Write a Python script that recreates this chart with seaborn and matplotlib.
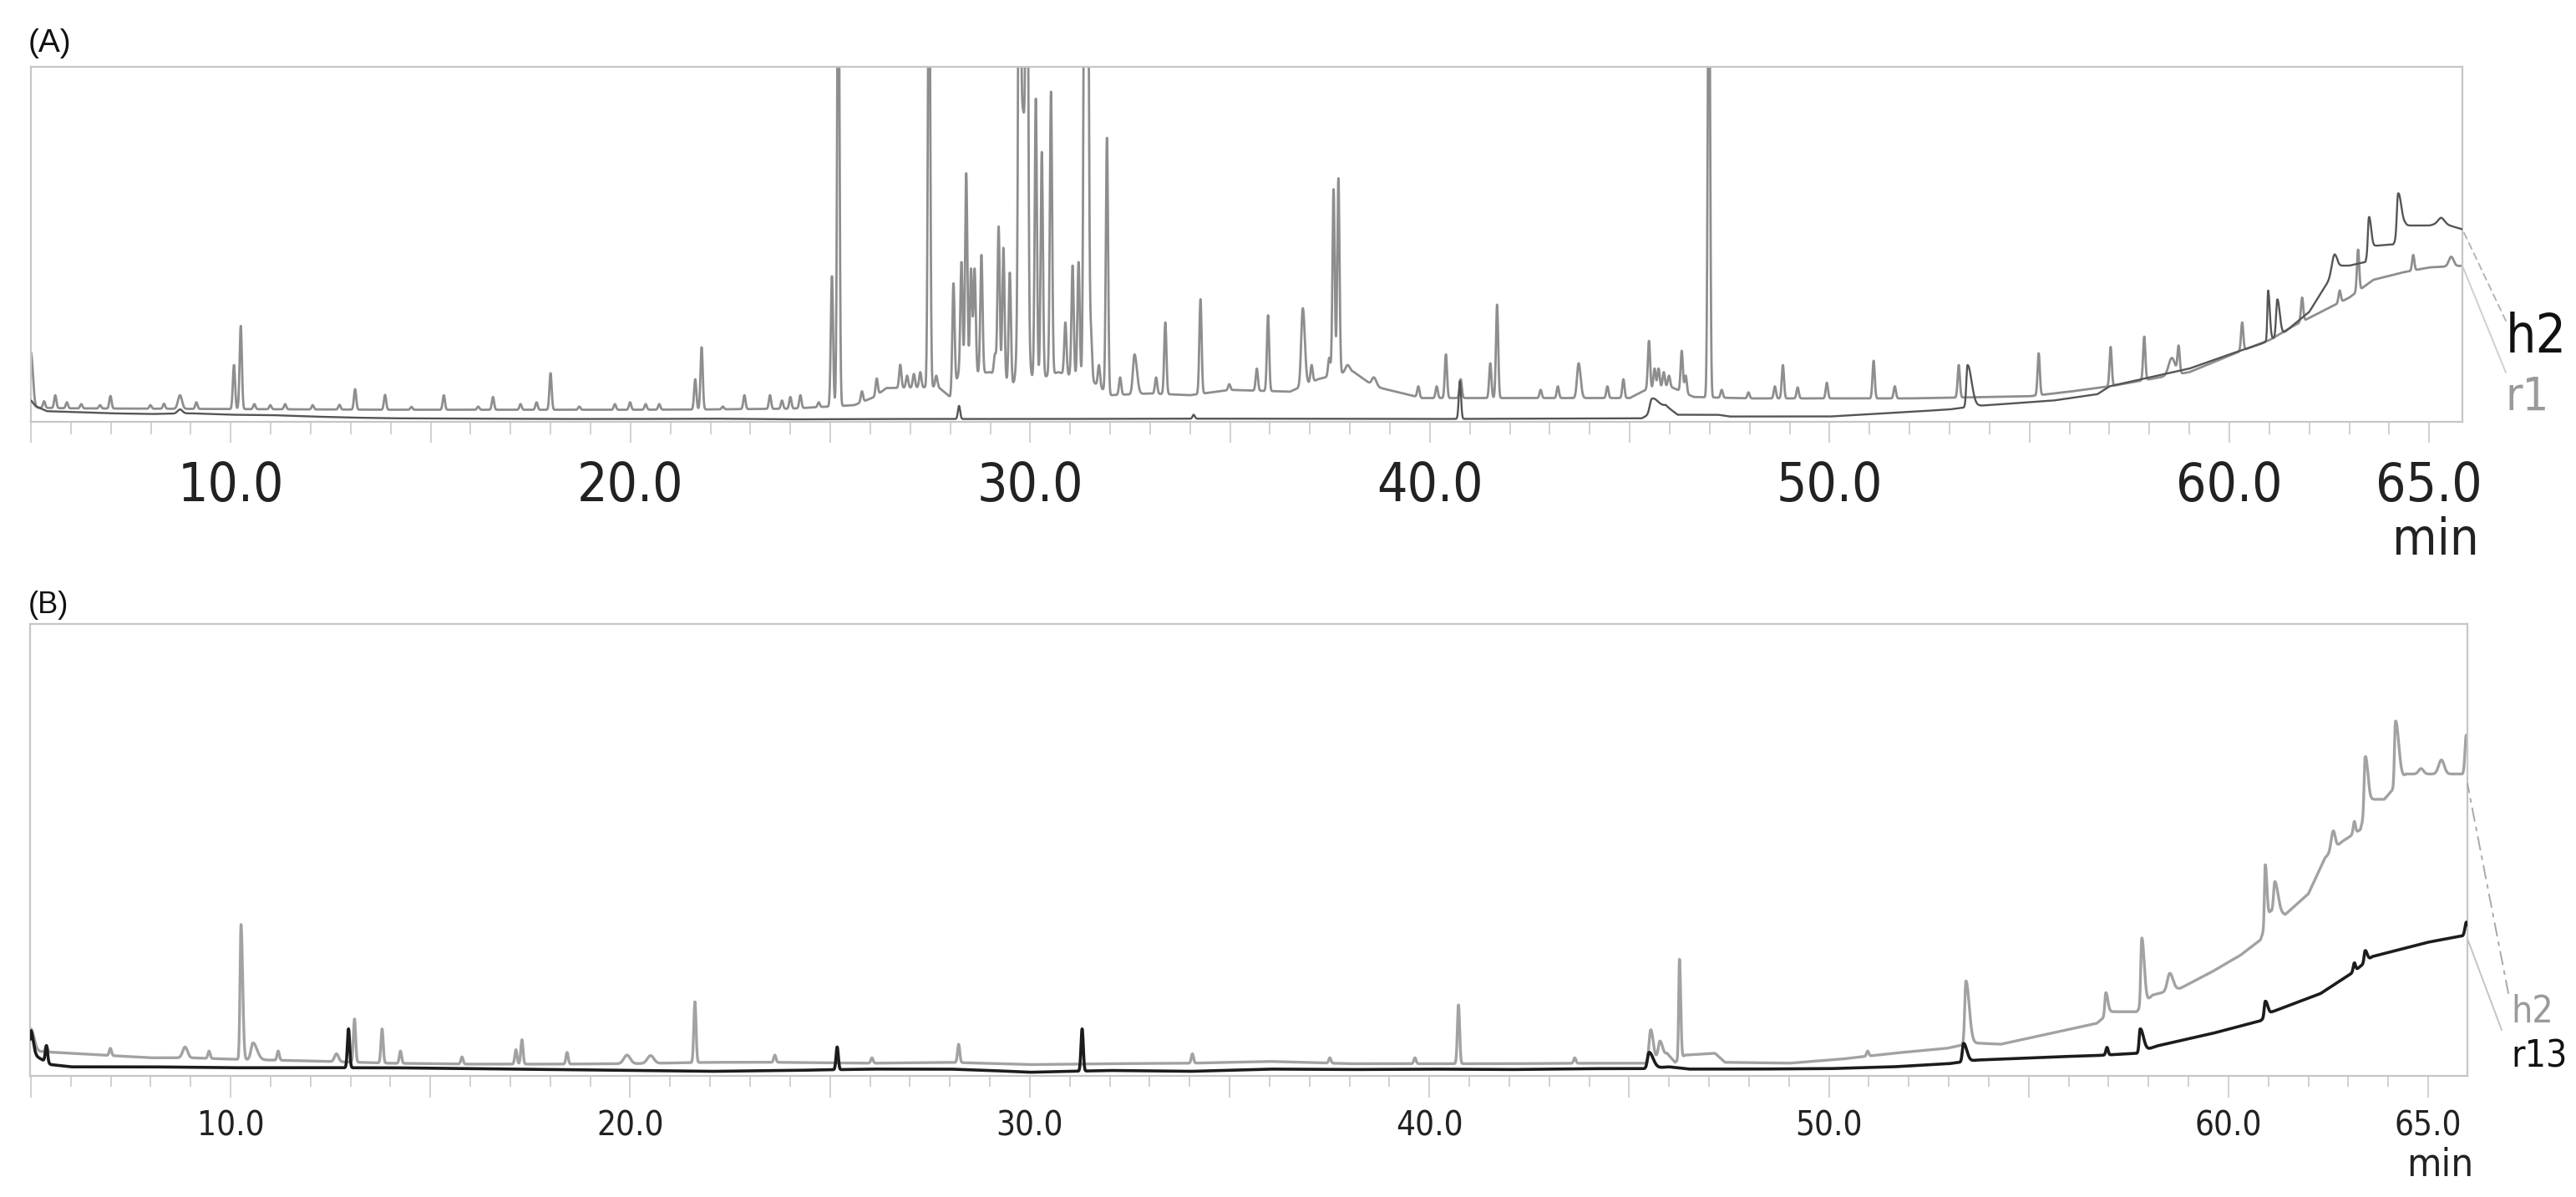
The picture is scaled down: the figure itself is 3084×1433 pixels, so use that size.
import numpy as np
import pandas as pd
import matplotlib
matplotlib.use("Agg")
import matplotlib.pyplot as plt
import seaborn as sns
from matplotlib import font_manager as fm

sns.set_theme(style="white")
plt.rcParams["font.family"] = ["Liberation Sans", "DejaVu Sans"]


def pick_narrow():
    prefs = ["LiberationSansNarrow-Regular", "DejaVuSansCondensed.ttf", "RobotoCondensed-Regular",
             "OpenSans_Condensed-Regular", "NotoSans-Condensed", "Condensed-Regular", "Narrow"]
    files = [f.fname for f in fm.fontManager.ttflist]
    for key in prefs:
        for fn in files:
            base = fn.split("/")[-1]
            if key in base and "Bold" not in base and "Oblique" not in base and "Italic" not in base:
                return fm.FontProperties(fname=fn)
    return fm.FontProperties(family="Liberation Sans")


NARROW_FP = pick_narrow()

# ---------------- data (retention time in min, signal as fraction of panel height) ----------------
TICK_POS = [5, 10, 15, 20, 25, 30, 35, 40, 45, 50, 55, 60, 65]
TICK_LAB = ["", "10.0", "", "20.0", "", "30.0", "", "40.0", "", "50.0", "", "60.0", "65.0"]

# Panel A, trace r1 : baseline knots (t, value)
A_r1_base = [(5.0, 0.040), (6.0, 0.038), (8.0, 0.037), (10.0, 0.036), (12.0, 0.035), (14.0, 0.034),
             (16.0, 0.034), (18.0, 0.034), (20.0, 0.034), (22.0, 0.035), (24.0, 0.037), (25.6, 0.047),
             (26.1, 0.07), (26.4, 0.095), (27.7, 0.098), (28.0, 0.07), (28.2, 0.13), (29.0, 0.14),
             (29.6, 0.10), (30.2, 0.12), (30.7, 0.14), (31.6, 0.11), (32.0, 0.075), (33.0, 0.08),
             (34.0, 0.075), (35.0, 0.09), (36.5, 0.085), (37.2, 0.12), (37.9, 0.14), (38.1, 0.14),
             (38.6, 0.10), (39.8, 0.067), (45.0, 0.067), (45.4, 0.09), (46.0, 0.10), (46.6, 0.07),
             (48.0, 0.066), (52.0, 0.066), (55.0, 0.072), (56.0, 0.085), (57.0, 0.10), (58.0, 0.12),
             (59.0, 0.14), (60.3, 0.20), (61.0, 0.23), (61.6, 0.27), (62.3, 0.31), (63.0, 0.35),
             (63.6, 0.40), (64.3, 0.42), (65.0, 0.435), (65.9, 0.44)]
# Panel A, trace r1 : peaks (t, apex value[, left width, right width])
A_r1_peaks = [(5.0, 0.195, 0.02, 0.05), (5.33, 0.058), (5.61, 0.075), (5.9, 0.055), (6.26, 0.05),
              (6.73, 0.047), (6.99, 0.073), (7.99, 0.047), (8.33, 0.051), (8.73, 0.075, 0.05, 0.05),
              (9.14, 0.055), (10.08, 0.16), (10.25, 0.27), (10.59, 0.05), (10.99, 0.047), (11.36, 0.05),
              (12.05, 0.047), (12.72, 0.048), (13.11, 0.092), (13.86, 0.076), (14.52, 0.042),
              (15.33, 0.075), (16.19, 0.043), (16.56, 0.07), (17.25, 0.05), (17.65, 0.055), (18.0, 0.137),
              (18.72, 0.043), (19.61, 0.05), (19.99, 0.055), (20.38, 0.05), (20.72, 0.05), (21.62, 0.12),
              (21.78, 0.21), (22.31, 0.043), (22.85, 0.075), (23.49, 0.075), (23.79, 0.06), (24.0, 0.07),
              (24.25, 0.075), (24.71, 0.055), (25.04, 0.41), (25.2, 1.5),
              (25.79, 0.086), (26.16, 0.122), (26.75, 0.161), (26.92, 0.13), (27.09, 0.135), (27.25, 0.14),
              (27.47, 1.5), (27.65, 0.13), (28.08, 0.39), (28.28, 0.45), (28.40, 0.70), (28.52, 0.43),
              (28.61, 0.43), (28.78, 0.47), (29.12, 0.19), (29.21, 0.55), (29.33, 0.49), (29.49, 0.42),
              (29.73, 1.5), (29.82, 0.87, 0.08, 0.08), (29.92, 1.5), (30.14, 0.91), (30.29, 0.76),
              (30.52, 0.93), (30.88, 0.28), (31.06, 0.44), (31.21, 0.45), (31.36, 1.5), (31.44, 1.5),
              (31.52, 0.25), (31.72, 0.16), (31.92, 0.80), (32.25, 0.125), (32.61, 0.19, 0.04, 0.06),
              (33.15, 0.125), (33.38, 0.28), (34.26, 0.345), (34.98, 0.106), (35.67, 0.15), (35.95, 0.30),
              (36.82, 0.32, 0.04, 0.05), (37.04, 0.16), (37.48, 0.18), (37.59, 0.655), (37.71, 0.686),
              (37.94, 0.16, 0.05, 0.06), (38.6, 0.125, 0.05, 0.06), (39.71, 0.10), (40.17, 0.10),
              (40.4, 0.19), (40.77, 0.12), (41.51, 0.165), (41.68, 0.33), (42.77, 0.09), (43.2, 0.10),
              (43.72, 0.165, 0.04, 0.05), (44.44, 0.10), (44.84, 0.12), (45.48, 0.228), (45.62, 0.15),
              (45.72, 0.15), (45.85, 0.14), (45.98, 0.13), (46.30, 0.20), (46.4, 0.13), (46.98, 1.5),
              (47.3, 0.09), (47.97, 0.083), (48.63, 0.10), (48.83, 0.16), (49.2, 0.097), (49.93, 0.11),
              (51.1, 0.172), (51.63, 0.10), (53.23, 0.16), (55.23, 0.193), (57.03, 0.211), (57.87, 0.24),
              (58.56, 0.18, 0.08, 0.08), (58.73, 0.21), (60.32, 0.28), (61.82, 0.35), (62.76, 0.37),
              (63.22, 0.485), (64.6, 0.47), (65.55, 0.465, 0.06, 0.06)]

# Panel A, trace h2
A_h2_base = [(5.0, 0.05), (5.4, 0.03), (6.0, 0.028), (7.0, 0.024), (8.0, 0.022), (9.0, 0.024), (10.0, 0.02),
             (11.0, 0.019), (12.0, 0.015), (13.0, 0.012), (14.0, 0.010), (16.0, 0.009), (18.0, 0.008),
             (20.0, 0.008), (22.0, 0.009), (24.0, 0.007), (26.0, 0.008), (30.0, 0.008), (35.0, 0.009),
             (40.0, 0.008), (45.3, 0.010), (45.9, 0.045), (46.2, 0.02), (47.2, 0.02), (47.5, 0.015),
             (50.0, 0.015), (52.0, 0.028), (53.0, 0.035), (53.7, 0.045), (55.6, 0.06), (56.7, 0.078),
             (57.0, 0.10), (58.0, 0.125), (59.0, 0.15), (60.0, 0.19), (60.8, 0.22), (61.3, 0.245),
             (62.0, 0.31), (62.5, 0.40), (62.7, 0.44), (63.0, 0.44), (63.4, 0.45), (63.55, 0.495),
             (64.1, 0.50), (64.4, 0.553), (65.0, 0.553), (65.3, 0.56), (65.9, 0.54)]
A_h2_peaks = [(5.0, 0.06, 0.02, 0.05), (8.73, 0.035, 0.06, 0.06), (28.22, 0.045), (34.09, 0.02),
              (40.75, 0.115), (45.55, 0.065, 0.05, 0.15), (53.45, 0.16, 0.03, 0.1),
              (60.97, 0.37, 0.02, 0.04), (61.2, 0.345, 0.03, 0.06), (62.62, 0.47, 0.06, 0.06),
              (63.49, 0.576, 0.025, 0.05), (64.22, 0.643, 0.03, 0.08), (65.3, 0.575, 0.08, 0.08)]

# Panel B, trace h2
B_h2_base = [(5.0, 0.055), (6.0, 0.05), (7.0, 0.045), (8.0, 0.04), (9.0, 0.04), (10.0, 0.037), (11.0, 0.035),
             (12.0, 0.033), (14.0, 0.028), (16.0, 0.026), (18.0, 0.026), (20.0, 0.027), (22.0, 0.03),
             (24.0, 0.03), (26.0, 0.028), (28.0, 0.03), (30.0, 0.025), (32.0, 0.027), (34.0, 0.028),
             (36.0, 0.032), (38.0, 0.027), (40.0, 0.027), (42.0, 0.027), (44.0, 0.028), (45.4, 0.028),
             (45.95, 0.05), (46.15, 0.03), (46.4, 0.046), (47.15, 0.05), (47.4, 0.03), (49.0, 0.028),
             (50.3, 0.037), (51.6, 0.05), (52.95, 0.061), (53.6, 0.073), (54.3, 0.07), (55.6, 0.095),
             (56.7, 0.116), (57.05, 0.142), (57.7, 0.142), (58.1, 0.179), (58.8, 0.194), (59.6, 0.231),
             (60.3, 0.267), (60.8, 0.301), (61.05, 0.365), (61.42, 0.357), (62.0, 0.403), (62.42, 0.483),
             (62.82, 0.517), (63.3, 0.545), (63.5, 0.612), (63.9, 0.612), (64.45, 0.668), (65.0, 0.668),
             (65.86, 0.668), (65.98, 0.68)]
B_h2_peaks = [(5.0, 0.104, 0.02, 0.08), (5.39, 0.067), (6.99, 0.061), (8.86, 0.064, 0.06, 0.06), (9.46, 0.055),
              (10.26, 0.335, 0.025, 0.04), (10.56, 0.073, 0.05, 0.1), (11.19, 0.055), (12.65, 0.049, 0.05, 0.05),
              (13.1, 0.126), (13.79, 0.104), (14.25, 0.055), (15.79, 0.042), (17.14, 0.058), (17.29, 0.08),
              (18.42, 0.052), (19.92, 0.046, 0.08, 0.08), (20.51, 0.045, 0.08, 0.08), (21.62, 0.164),
              (23.62, 0.046), (26.05, 0.04), (28.22, 0.07), (34.07, 0.049), (37.51, 0.04), (39.64, 0.04),
              (40.73, 0.157), (43.64, 0.04), (45.54, 0.102, 0.04, 0.06), (45.77, 0.077, 0.04, 0.06),
              (46.26, 0.258, 0.02, 0.03), (50.97, 0.055), (53.43, 0.21, 0.03, 0.08), (56.93, 0.184, 0.025, 0.05),
              (57.83, 0.305, 0.025, 0.06), (58.53, 0.227, 0.06, 0.08), (60.92, 0.467, 0.02, 0.04),
              (61.16, 0.43, 0.03, 0.08), (62.62, 0.542, 0.05, 0.05), (63.15, 0.563), (63.42, 0.705, 0.025, 0.06),
              (64.18, 0.785, 0.025, 0.08), (64.82, 0.68, 0.06, 0.06), (65.33, 0.699, 0.07, 0.07),
              (65.95, 0.754, 0.03, 0.03)]

# Panel B, trace r13
B_r13_base = [(5.0, 0.05), (5.5, 0.025), (6.0, 0.02), (8.0, 0.02), (10.0, 0.018), (12.0, 0.018), (14.0, 0.018),
              (16.0, 0.016), (18.0, 0.014), (20.0, 0.012), (22.0, 0.01), (24.0, 0.012), (26.0, 0.015),
              (28.0, 0.015), (29.0, 0.012), (30.0, 0.008), (32.0, 0.012), (34.0, 0.01), (36.0, 0.015),
              (38.0, 0.014), (40.0, 0.015), (42.0, 0.014), (44.0, 0.016), (45.4, 0.016), (46.0, 0.02),
              (46.5, 0.015), (48.0, 0.015), (50.0, 0.016), (51.6, 0.02), (53.0, 0.027), (53.7, 0.035),
              (55.6, 0.042), (56.7, 0.045), (57.7, 0.05), (58.2, 0.066), (59.6, 0.094), (60.8, 0.122),
              (61.1, 0.142), (62.3, 0.182), (63.1, 0.228), (63.6, 0.264), (64.3, 0.28), (64.95, 0.295),
              (65.86, 0.31), (65.98, 0.32)]
B_r13_peaks = [(5.0, 0.10, 0.02, 0.06), (5.39, 0.067), (12.95, 0.104), (25.18, 0.064), (31.31, 0.104),
               (45.5, 0.052, 0.04, 0.1), (53.37, 0.072, 0.03, 0.08), (56.96, 0.063), (57.79, 0.104, 0.025, 0.08),
               (60.92, 0.165, 0.025, 0.06), (63.15, 0.25), (63.42, 0.277, 0.025, 0.05), (65.95, 0.34, 0.03, 0.03)]

XLIM_A = (5.0, 65.83)
XLIM_B = (4.98, 65.98)


def build(grid, base, peaks, sig=0.028):
    bt = np.array([p[0] for p in base])
    bv = np.array([p[1] for p in base])
    out = np.interp(grid, bt, bv)
    for p in peaks:
        t, apex = p[0], p[1]
        sl = p[2] if len(p) > 2 else sig
        sr = p[3] if len(p) > 3 else sl
        h = apex - np.interp(t, bt, bv)
        s = np.where(grid < t, sl, sr)
        out = out + h * np.exp(-0.5 * ((grid - t) / s) ** 2)
    return out


gridA = np.arange(XLIM_A[0], XLIM_A[1] + 1e-9, 0.005)
gridB = np.arange(XLIM_B[0], XLIM_B[1] + 1e-9, 0.005)
dfA = pd.DataFrame({"t": gridA,
                    "r1": build(gridA, A_r1_base, A_r1_peaks),
                    "h2": build(gridA, A_h2_base, A_h2_peaks)})
dfB = pd.DataFrame({"t": gridB,
                    "h2": build(gridB, B_h2_base, B_h2_peaks),
                    "r13": build(gridB, B_r13_base, B_r13_peaks)})

W, H = 3084, 1433
fig = plt.figure(figsize=(W / 100, H / 100), dpi=100)
fig.patch.set_facecolor("white")
axA = fig.add_axes([37 / W, 1 - 505 / H, (2948 - 37) / W, 425 / H])
axB = fig.add_axes([36 / W, 1 - 1288 / H, (2954 - 36) / W, 541 / H])

sns.lineplot(data=dfA, x="t", y="r1", ax=axA, color="#8e8e8e", lw=2.0, estimator=None, sort=False, zorder=2)
sns.lineplot(data=dfA, x="t", y="h2", ax=axA, color="#555555", lw=1.7, estimator=None, sort=False, zorder=3)
sns.lineplot(data=dfB, x="t", y="h2", ax=axB, color="#a2a2a2", lw=2.4, estimator=None, sort=False, zorder=2)
sns.lineplot(data=dfB, x="t", y="r13", ax=axB, color="#1c1c1c", lw=2.6, estimator=None, sort=False, zorder=3)


def fp(size):
    p = NARROW_FP.copy()
    p.set_size(size)
    return p


for ax, xl, big in ((axA, XLIM_A, True), (axB, XLIM_B, False)):
    ax.set_xlim(*xl)
    ax.set_ylim(0, 1)
    ax.set_yticks([])
    ax.set_xlabel("")
    ax.set_ylabel("")
    for sp in ax.spines.values():
        sp.set_color("#c6c6c6")
        sp.set_linewidth(1.6)
    ax.set_xticks(TICK_POS)
    ax.set_xticks(np.arange(5, 66, 1), minor=True)
    if big:
        ax.set_xticklabels(TICK_LAB, fontproperties=fp(46), color="#222222")
        ax.tick_params(axis="x", which="major", bottom=True, direction="out", length=18, width=1.2,
                       color="#c8c8c8", pad=15)
        ax.tick_params(axis="x", which="minor", bottom=True, direction="out", length=11, width=1.2,
                       color="#c8c8c8")
    else:
        ax.set_xticklabels(TICK_LAB, fontproperties=fp(29), color="#222222")
        ax.tick_params(axis="x", which="major", bottom=True, direction="out", length=19, width=1.2,
                       color="#c8c8c8", pad=10)
        ax.tick_params(axis="x", which="minor", bottom=True, direction="out", length=9, width=1.2,
                       color="#c8c8c8")

# panel letters, units, trace labels
fig.text(34 / W, 1 - 52 / H, "(A)", fontsize=28, ha="left", va="center", color="#111111")
fig.text(34 / W, 1 - 725 / H, "(B)", fontsize=26, ha="left", va="center", color="#111111")
fig.text(2916 / W, 1 - 648 / H, "min", fontproperties=fp(44), ha="center", va="center", color="#222222")
fig.text(2921 / W, 1 - 1395 / H, "min", fontproperties=fp(34), ha="center", va="center", color="#222222")
fig.text(3000 / W, 1 - 422 / H, "h2", fontproperties=fp(46), ha="left", va="baseline", color="#111111")
fig.text(3000 / W, 1 - 491 / H, "r1", fontproperties=fp(40), ha="left", va="baseline", color="#9a9a9a")
fig.text(3006 / W, 1 - 1224 / H, "h2", fontproperties=fp(32), ha="left", va="baseline", color="#9a9a9a")
fig.text(3006 / W, 1 - 1277 / H, "r13", fontproperties=fp(32), ha="left", va="baseline", color="#111111")


# leader lines from trace ends to the labels
def leader(ax, xend, yend, px, py, color, ls):
    ax.annotate("", xy=(xend, yend), xycoords="data", xytext=(px, H - py), textcoords="figure pixels",
                arrowprops=dict(arrowstyle="-", color=color, lw=1.4, linestyle=ls, shrinkA=0, shrinkB=0),
                annotation_clip=False)


leader(axA, XLIM_A[1], dfA["h2"].iloc[-1], 3000, 384, "#b4b4b4", (0, (4, 3)))
leader(axA, XLIM_A[1], dfA["r1"].iloc[-1], 3000, 446, "#cfcfcf", "-")
leader(axB, XLIM_B[1], dfB["h2"].iloc[-1] - 0.08, 3003, 1189, "#a8a8a8", (0, (8, 4, 2, 4)))
leader(axB, XLIM_B[1], dfB["r13"].iloc[-1] - 0.03, 2995, 1233, "#c4c4c4", "-")

fig.savefig("out.png", dpi=100, facecolor="white")
